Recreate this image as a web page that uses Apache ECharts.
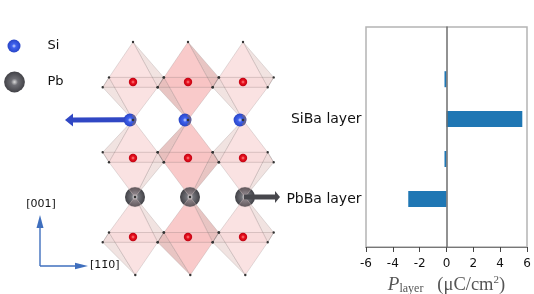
<!DOCTYPE html>
<html><head><meta charset="utf-8">
<style>html,body{margin:0;padding:0;background:#fff}#c{width:534px;height:294px}</style>
<script src="https://cdn.jsdelivr.net/npm/echarts@6/dist/echarts.min.js"></script>
</head><body><div id="c"></div>
<script>
// Chart data
const layers = ['', 'SiBa layer', '', 'PbBa layer'];
const polarization = [-0.15, 5.65, -0.15, -2.85];
const xTicks = [-6, -4, -2, 0, 2, 4, 6];

// Crystal-structure illustration (decorative, built from a small lattice description)
const FONT = '"DejaVu Sans"';
const colX = [0, 55, 110];
const rows = [
  {tx: 133, top: 42, bx: 133, bottom: 120, eqBack: 77.4, eqFront: 87.3, ox: 82, mirrored: false},
  {tx: 133, top: 120, bx: 135, bottom: 197, eqBack: 162.3, eqFront: 152.3, ox: 158, mirrored: true},
  {tx: 135, top: 197, bx: 135.3, bottom: 275, eqBack: 232.5, eqFront: 242.3, ox: 237, mirrored: false}
];
const tones = [
  {main: '#f9dcdc', wedge: '#eedcda', belt: 'rgba(240,170,170,0.10)'},
  {main: '#f8bebe', wedge: '#e2b6b4', belt: 'rgba(240,130,130,0.08)'},
  {main: '#f9dcdc', wedge: '#eedcda', belt: 'rgba(240,170,170,0.10)'}
];
const STROKE = 'rgba(120,105,105,0.32)';
function ball(cx, cy, r, c0, c1, c2, z, stop) {
  return {type: 'circle', shape: {cx, cy, r}, z: z, style: {fill: {
    type: 'radial', x: 0.5, y: 0.5, r: 0.55,
    colorStops: [{offset: 0, color: c0}, {offset: stop || 0.3, color: c1}, {offset: 1, color: c2}]
  }}};
}
function poly(points, fill, z, opacity) {
  return {type: 'polygon', shape: {points}, z: z || 5,
    style: {fill, opacity: opacity || 1, stroke: STROKE, lineWidth: 0.8}};
}
function arrow(x1, y1, x2, y2, w, hw, hl, color, z) {
  const d = Math.hypot(x2 - x1, y2 - y1), ux = (x2 - x1) / d, uy = (y2 - y1) / d;
  const bx = x2 - ux * hl, by = y2 - uy * hl;
  return [
    {type: 'line', z: z, shape: {x1, y1, x2: bx, y2: by}, style: {stroke: color, lineWidth: w}},
    {type: 'polygon', z: z, shape: {points: [[x2, y2], [bx - uy * hw, by + ux * hw], [bx + uy * hw, by - ux * hw]]}, style: {fill: color}}
  ];
}
const deg = Math.PI / 180;
const art = [];
colX.forEach((dx, c) => {
  const t = tones[c];
  art.push(ball(130 + dx, 120, 6.4, '#d4deff', '#3f62ee', '#2540c0', 8));
  art.push({type: 'arc', z: 9, shape: {cx: 130 + dx, cy: 120, r: 5.4, startAngle: -65 * deg, endAngle: 65 * deg},
    style: {fill: 'none', stroke: 'rgba(120,105,125,0.75)', lineWidth: 2}});
  art.push(ball(135 + dx, 197, 10, '#ffffff', '#74747a', '#38383d', 8));
  [[-128, -52], [52, 128]].forEach(a => art.push({type: 'sector', z: 9,
    shape: {cx: 135 + dx, cy: 197, r: 10, r0: 0, startAngle: a[0] * deg, endAngle: a[1] * deg},
    style: {fill: 'rgba(240,190,190,0.18)', stroke: 'rgba(225,205,205,0.55)', lineWidth: 0.7}}));
  rows.forEach(r => {
    const T = [r.tx + dx, r.top], B = [r.bx + dx, r.bottom];
    const BL = [109 + dx, r.eqBack], BR = [163.7 + dx, r.eqBack];
    const FL = [102.7 + dx, r.eqFront], FR = [157.7 + dx, r.eqFront];
    const rightApex = r.mirrored ? B : T, leftApex = r.mirrored ? T : B;
    art.push(poly([rightApex, BR, FR], t.wedge, 5, 0.8));
    art.push(poly([leftApex, BL, FL], t.wedge, 5, 0.8));
    art.push(poly([T, BL, B, FR], t.main, 6, 0.82));
    art.push({type: 'polygon', z: 7, shape: {points: [BL, BR, FR, FL]},
      style: {fill: t.belt, stroke: STROKE, lineWidth: 0.8}});
    [T, B, BL, BR, FL, FR].forEach(p => art.push({type: 'circle', z: 25, shape: {cx: p[0], cy: p[1], r: 1.2}, style: {fill: '#333'}}));
    art.push(ball(133 + dx, r.ox, 4.2, '#ff8e8e', '#e8101c', '#b80012', 24, 0.4));
  });
});
art.push(ball(14, 46, 6.5, '#d4deff', '#3f62ee', '#2540c0', 20));
art.push(ball(14.5, 82, 10.4, '#dcdcdc', '#6e6e74', '#3b3b40', 20));
art.push(...arrow(125, 119.7, 65, 120, 5, 6.5, 8, '#3047c4', 30));
art.push(...arrow(244, 197, 280, 197, 5, 6, 5, '#47474c', 30));
art.push(...arrow(40, 266, 40, 215, 1.4, 3.5, 13, '#3f6fbe', 30));
art.push(...arrow(40, 266, 88, 266, 1.4, 3.2, 13, '#3f6fbe', 30));
const txt = (text, x, y, size, align) => ({type: 'text', z: 30, x, y,
  style: {text, fill: '#111', font: size + 'px ' + FONT, align: align || 'left', verticalAlign: 'middle'}});
art.push(txt('Si', 47.5, 46, 13), txt('Pb', 47.5, 82, 13));
art.push(txt('[001]', 41, 204, 11, 'center'), txt('[11\u03040]', 90, 265, 11));

const chart = echarts.init(document.getElementById('c'), null, {renderer: 'canvas'});
chart.setOption({
  animation: false,
  backgroundColor: '#fff',
  graphic: {elements: art},
  grid: [
    {left: 366, top: 27, width: 161, height: 220, show: true, borderColor: '#b4b4b4', borderWidth: 1.5, backgroundColor: 'transparent', outerBoundsMode: 'none', containLabel: false},
    {left: 366, top: 59.25, width: 161, height: 159.6, outerBoundsMode: 'none', containLabel: false}
  ],
  xAxis: [
    {type: 'value', gridIndex: 0, min: -6, max: 6, interval: 2, splitLine: {show: false},
     axisLine: {show: true, lineStyle: {color: '#777', width: 1.2}},
     axisTick: {show: true, length: 5, lineStyle: {color: '#444', width: 1}},
     axisLabel: {color: '#111', fontFamily: FONT, fontSize: 12, margin: 11,
       formatter: v => xTicks.includes(v) ? String(v) : ''},
     name: '{p|P}{s|layer}{u|   (\u03bcC/cm}{e|2}{u|)}', nameLocation: 'middle', nameGap: 20,
     nameTextStyle: {rich: {
       p: {fontFamily: '"Liberation Serif"', fontStyle: 'italic', fontSize: 19, color: '#555'},
       s: {fontFamily: '"Liberation Serif"', fontSize: 12, color: '#555', verticalAlign: 'bottom', padding: [8, 0, 0, 0]},
       u: {fontFamily: '"Liberation Serif"', fontSize: 18.5, color: '#555'},
       e: {fontFamily: '"Liberation Serif"', fontSize: 11, color: '#555', verticalAlign: 'top', padding: [0, 0, 6, 0]}
     }}},
    {type: 'value', gridIndex: 1, min: -6, max: 6, interval: 2, show: false, splitLine: {show: false}}
  ],
  yAxis: [
    {type: 'value', gridIndex: 0, min: 0, max: 1, z: 6, splitLine: {show: false},
     axisTick: {show: false}, axisLabel: {show: false},
     axisLine: {show: true, onZero: true, lineStyle: {color: '#6e6e6e', width: 1.5}}},
    {type: 'category', gridIndex: 1, data: layers, inverse: true, splitLine: {show: false},
     axisLine: {show: false, onZero: false}, axisTick: {show: false},
     axisLabel: {show: true, interval: 0, color: '#111', fontFamily: FONT, fontSize: 14, margin: 4.5, padding: [0, 0, 3, 0]}}
  ],
  series: [{
    type: 'bar', xAxisIndex: 1, yAxisIndex: 1, data: polarization, barWidth: 16,
    itemStyle: {color: '#1f77b4'}
  }]
});
</script></body></html>
